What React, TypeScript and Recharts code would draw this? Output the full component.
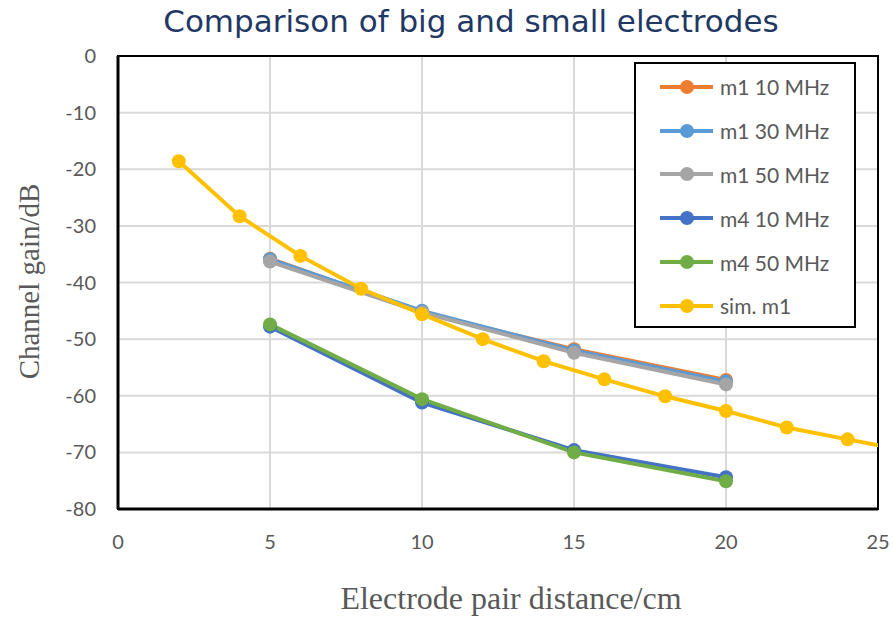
import React from "react";
import {
  CartesianGrid,
  Label,
  Legend,
  Line,
  LineChart,
  ReferenceArea,
  XAxis,
  YAxis,
} from "recharts";

// distances (cm) of the measured electrode pairs
const measuredX = [5, 10, 15, 20];
const m1at10 = [-35.8, -45.3, -51.8, -57.2];
const m1at30 = [-35.9, -45.0, -52.0, -57.5];
const m1at50 = [-36.3, -45.3, -52.4, -58.0];
const m4at10 = [-47.8, -61.2, -69.6, -74.4];
const m4at50 = [-47.4, -60.6, -70.0, -75.1];

// simulation, last point sits beyond the axis end and gets clipped
const simX = [2, 4, 6, 8, 10, 12, 14, 16, 18, 20, 22, 24, 26];
const simM1 = [-18.6, -28.3, -35.3, -41.1, -45.6, -50.0, -53.9, -57.1, -60.1, -62.7, -65.6, -67.7, -69.8];

const xTicks = [0, 5, 10, 15, 20, 25];
const yTicks = [-80, -70, -60, -50, -40, -30, -20, -10, 0];

const toPoints = (xs: number[], ys: number[]) => xs.map((x, i) => ({ x, y: ys[i] }));

const series = [
  { name: "m1 10 MHz", color: "#ED7D31", data: toPoints(measuredX, m1at10) },
  { name: "m1 30 MHz", color: "#5B9BD5", data: toPoints(measuredX, m1at30) },
  { name: "m1 50 MHz", color: "#A5A5A5", data: toPoints(measuredX, m1at50) },
  { name: "m4 10 MHz", color: "#4472C4", data: toPoints(measuredX, m4at10) },
  { name: "m4 50 MHz", color: "#70AD47", data: toPoints(measuredX, m4at50) },
  { name: "sim. m1", color: "#FFC000", data: toPoints(simX, simM1) },
];

const tickFont = { fontFamily: "Lato", fontSize: 20, fill: "#595959" };
const axisTitleFont = { fontFamily: "Liberation Serif", fill: "#595959" };

function LegendBox() {
  return (
    <div
      style={{
        boxSizing: "border-box",
        width: 222,
        height: 266,
        border: "2px solid #000",
        background: "#fff",
        paddingTop: 1,
      }}
    >
      {series.map((s) => (
        <div
          key={s.name}
          style={{ height: 43.8, display: "flex", alignItems: "center" }}
        >
          <svg width={84} height={20} style={{ flex: "none" }}>
            <line x1={24} x2={77} y1={10} y2={10} stroke={s.color} strokeWidth={4} />
            <circle cx={51} cy={10} r={7} fill={s.color} />
          </svg>
          <span style={{ fontFamily: "Lato", fontSize: 21, color: "#595959", whiteSpace: "pre" }}>
            {s.name}
          </span>
        </div>
      ))}
    </div>
  );
}

export default function App() {
  return (
    <div style={{ position: "absolute", left: 0, top: 0, width: 893, height: 617, background: "#fff" }}>
      <div
        style={{
          position: "absolute",
          left: 0,
          top: 6,
          width: 942,
          textAlign: "center",
          fontFamily: "DejaVu Sans",
          fontSize: 31,
          lineHeight: "31px",
          color: "#1F3864",
        }}
      >
        Comparison of big and small electrodes
      </div>
      <LineChart
        width={893}
        height={617}
        margin={{ top: 56, right: 15, bottom: 0, left: 0 }}
      >
        <CartesianGrid stroke="#D9D9D9" strokeWidth={2} />
        <XAxis
          dataKey="x"
          type="number"
          domain={[0, 25]}
          ticks={xTicks}
          allowDataOverflow
          height={108}
          tickLine={false}
          tickSize={0}
          tickMargin={26}
          axisLine={{ stroke: "#000", strokeWidth: 3 }}
          tick={tickFont}
        >
          <Label
            value="Electrode pair distance/cm"
            position="insideBottom"
            offset={8}
            dx={13}
            style={{ ...axisTitleFont, fontSize: 32 }}
          />
        </XAxis>
        <YAxis
          dataKey="y"
          type="number"
          domain={[-80, 0]}
          ticks={yTicks}
          width={118}
          tickLine={false}
          tickSize={0}
          tickMargin={22}
          axisLine={{ stroke: "#000", strokeWidth: 3 }}
          tick={tickFont}
        >
          <Label
            value="Channel gain/dB"
            position="center"
            angle={-90}
            dx={-30}
            dy={-1}
            style={{ ...axisTitleFont, fontSize: 29 }}
          />
        </YAxis>
        <ReferenceArea x1={0} x2={25} y1={-80} y2={0} fill="none" stroke="#000" strokeWidth={2} />
        {series.map((s) => (
          <Line
            key={s.name}
            data={s.data}
            dataKey="y"
            name={s.name}
            stroke={s.color}
            strokeWidth={4}
            dot={{ r: 7, fill: s.color, stroke: s.color, strokeWidth: 0 }}
            activeDot={false}
            isAnimationActive={false}
          />
        ))}
        <Legend
          layout="vertical"
          align="center"
          verticalAlign="middle"
          wrapperStyle={{ left: 634, top: 62, width: 222, height: 266 }}
          content={() => <LegendBox />}
        />
      </LineChart>
    </div>
  );
}
